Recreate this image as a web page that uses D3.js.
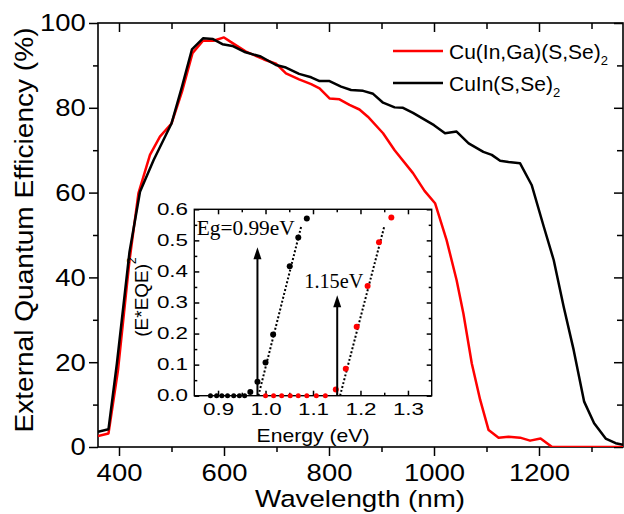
<!DOCTYPE html>
<html><head><meta charset="utf-8">
<script src="https://cdn.jsdelivr.net/npm/d3@7"></script>
<style>
body{margin:0;background:#fff}
text{fill:#000}
</style>
</head><body>
<svg id="c" width="624" height="514" style="font-family:'Liberation Sans',Arial,sans-serif"></svg>
<script>
// ---------- main chart data ----------
const seriesNames = ["Cu(In,Ga)(S,Se)", "CuIn(S,Se)"];
const seriesColors = ["#ff0000", "#000000"];
const redWavelength = [360,380,398,420,437,459,478,500,520,540,560,580,600,612,641,676,699,718,743,766,782,801,820,839,858,874,903,925,960,982,1002,1024,1043,1056,1072,1088,1104,1123,1142,1164,1183,1203,1225,1360];
const redEQE =        [2.6,3.2,18,44,59.8,68.9,73.2,76.3,83.8,92.9,95.8,95.8,96.6,95.6,93.3,91.4,90.4,88.1,86.7,85.6,84.6,82.2,82,80.7,79.6,77.9,74,70,64.6,60.4,57.5,48.8,39.4,31.5,19.7,11.1,4.0,2.2,2.4,2.2,1.5,2.0,0,0];
const blackWavelength = [360,380,396,420,440,466,500,520,539,560,579,597,616,641,670,699,718,743,766,782,801,823,842,865,884,903,925,941,960,1000,1021,1043,1066,1094,1110,1126,1142,1164,1186,1209,1228,1247,1266,1286,1305,1327,1346,1360];
const blackEQE =        [3.6,4.2,19.7,46,60.2,67.7,76.3,85,93.8,96.4,96.2,95,94.6,93.1,92.1,90.1,89.5,88,87.2,86.3,86.3,85,84.2,84,83.3,81.2,80.1,80,78.8,75.9,74,74.4,71.6,69.6,68.9,67.5,67.2,66.9,61.8,52,44.1,33.1,22.9,10.7,5.6,2.0,0.9,0.5];
const xMajorTicks = [400,600,800,1000,1200];
const xMinorTicks = [500,700,900,1100,1300];
const yMajorTicks = [0,20,40,60,80,100];
const yMinorTicks = [10,30,50,70,90];

// ---------- inset data ----------
const insetBlackEnergy = [0.884,0.897,0.908,0.920,0.933,0.945,0.956,0.968,0.983,1.000,1.016,1.051,1.069,1.087];
const insetBlackValue  = [0,0,0,0,0,0,0,0.012,0.045,0.107,0.197,0.417,0.509,0.570];
const insetRedEnergy = [1.000,1.017,1.034,1.052,1.069,1.087,1.107,1.126,1.148,1.169,1.192,1.215,1.239,1.265];
const insetRedValue  = [0,0,0,0,0,0,0,0,0.02,0.087,0.222,0.353,0.494,0.574];
const fitBlackEnergy = [0.985,1.075];
const fitBlackValue  = [0,0.544];
const fitRedEnergy = [1.157,1.250];
const fitRedValue  = [0,0.544];
const arrowEnergy = [0.983,1.151];
const arrowTop = [0.478,0.323];
const gapLabels = ["Eg=0.99eV","1.15eV"];
const insetXMajor = [0.9,1.0,1.1,1.2,1.3];
const insetXMinor = [0.95,1.05,1.15,1.25];
const insetYMajor = [0,0.1,0.2,0.3,0.4,0.5,0.6];
const insetYMinor = [0.05,0.15,0.25,0.35,0.45,0.55];

const svg = d3.select("#c");
const x = d3.scaleLinear().domain([360,1360]).range([98,623]);
const y = d3.scaleLinear().domain([0,100]).range([447,23]);
const SANS = "'Liberation Sans',Arial,sans-serif";
const SERIF = "'Liberation Serif','Times New Roman',serif";

function axisG(axis, tx, ty){
  const g = svg.append("g").attr("transform",`translate(${tx},${ty})`).call(axis);
  g.select(".domain").remove();
  g.selectAll("line").attr("stroke","#000").attr("stroke-width",1.5);
  return g;
}
const fmt = d3.format("d");
// bottom
let g = axisG(d3.axisBottom(x).tickValues(xMajorTicks).tickSize(9).tickPadding(8).tickFormat(fmt),0,447);
g.selectAll("text").style("font-size","24.5px").style("font-family",SANS).attr("transform","scale(1.12,1)");
axisG(d3.axisBottom(x).tickValues(xMinorTicks).tickSize(5).tickFormat(""),0,447);
// top
axisG(d3.axisTop(x).tickValues(xMajorTicks).tickSize(-9).tickFormat(""),0,23);
axisG(d3.axisTop(x).tickValues(xMinorTicks).tickSize(-6).tickFormat(""),0,23);
// left
g = axisG(d3.axisLeft(y).tickValues(yMajorTicks).tickSize(9).tickPadding(2).tickFormat(fmt),98,0);
g.selectAll("text").style("font-size","24.5px").style("font-family",SANS).attr("transform","scale(1.12,1)");
axisG(d3.axisLeft(y).tickValues(yMinorTicks).tickSize(5).tickFormat(""),98,0);
// right
axisG(d3.axisRight(y).tickValues(yMajorTicks).tickSize(-9).tickFormat(""),623,0);
axisG(d3.axisRight(y).tickValues(yMinorTicks).tickSize(-6).tickFormat(""),623,0);

// frame
svg.append("rect").attr("x",98).attr("y",23).attr("width",525).attr("height",424)
  .attr("fill","none").attr("stroke","#000").attr("stroke-width",1.6);

// curves
const line = d3.line().x(d=>x(d[0])).y(d=>y(d[1]));
svg.append("clipPath").attr("id","pc").append("rect").attr("x",98).attr("y",23).attr("width",525).attr("height",424);
const curves = [d3.zip(redWavelength, redEQE), d3.zip(blackWavelength, blackEQE)];
curves.forEach((c,i)=>{
  svg.append("path").attr("d",line(c)).attr("fill","none").attr("stroke",seriesColors[i])
    .attr("stroke-width",2.5).attr("stroke-linejoin","round").attr("clip-path","url(#pc)");
});

// titles
svg.append("text").attr("x",360).attr("y",507).attr("text-anchor","middle").style("font-size","24.5px").style("font-family",SANS)
  .attr("textLength",210).attr("lengthAdjust","spacingAndGlyphs").text("Wavelength (nm)");
svg.append("text").attr("transform","translate(33,230) rotate(-90)").attr("text-anchor","middle").style("font-size","25px").style("font-family",SANS)
  .attr("textLength",405).attr("lengthAdjust","spacingAndGlyphs").text("External Quantum Efficiency (%)");

// legend
const legY = [51,83];
seriesNames.forEach((n,i)=>{
  svg.append("line").attr("x1",393).attr("x2",443).attr("y1",legY[i]).attr("y2",legY[i])
    .attr("stroke",seriesColors[i]).attr("stroke-width",2.5);
  const t = svg.append("text").attr("x",449).attr("y",legY[i]+7.5).style("font-size","21px").style("font-family",SANS);
  t.append("tspan").text(n);
  t.append("tspan").style("font-size","13px").attr("dy",6).text("2");
});

// ---------- inset ----------
const xi = d3.scaleLinear().domain([0.85,1.35]).range([194.3,431.7]);
const yi = d3.scaleLinear().domain([0,0.6]).range([395.7,209.3]);
svg.append("rect").attr("x",194.3).attr("y",209.3).attr("width",237.4).attr("height",186.4).attr("fill","#fff");
const f1 = d3.format(".1f");
g = axisG(d3.axisBottom(xi).tickValues(insetXMajor).tickSize(-5).tickPadding(8).tickFormat(f1),0,395.7);
g.selectAll("text").style("font-size","16px").style("font-family",SANS).attr("transform","scale(1.4,1)");
axisG(d3.axisBottom(xi).tickValues(insetXMinor).tickSize(-3).tickFormat(""),0,395.7);
axisG(d3.axisTop(xi).tickValues(insetXMajor).tickSize(-5).tickFormat(""),0,209.3);
axisG(d3.axisTop(xi).tickValues(insetXMinor).tickSize(-3).tickFormat(""),0,209.3);
g = axisG(d3.axisLeft(yi).tickValues(insetYMajor).tickSize(-5).tickPadding(4.5).tickFormat(f1),194.3,0);
g.selectAll("text").style("font-size","16px").style("font-family",SANS).attr("transform","scale(1.4,1)");
axisG(d3.axisLeft(yi).tickValues(insetYMinor).tickSize(-3).tickFormat(""),194.3,0);
axisG(d3.axisRight(yi).tickValues(insetYMajor).tickSize(-5).tickFormat(""),431.7,0);
axisG(d3.axisRight(yi).tickValues(insetYMinor).tickSize(-3).tickFormat(""),431.7,0);
svg.append("rect").attr("x",194.3).attr("y",209.3).attr("width",237.4).attr("height",186.4)
  .attr("fill","none").attr("stroke","#000").attr("stroke-width",1.4);

// fit lines
const li = d3.line().x(d=>xi(d[0])).y(d=>yi(d[1]));
[d3.zip(fitBlackEnergy,fitBlackValue), d3.zip(fitRedEnergy,fitRedValue)].forEach(c=>{
  svg.append("path").attr("d",li(c)).attr("fill","none").attr("stroke","#000")
    .attr("stroke-width",2).attr("stroke-dasharray","2,2");
});
// points
[[insetBlackEnergy,insetBlackValue,"#000"],[insetRedEnergy,insetRedValue,"#ff0000"]].forEach(([e,v,c])=>{
  svg.append("g").selectAll("circle").data(d3.zip(e,v)).join("circle")
    .attr("cx",d=>xi(d[0])).attr("cy",d=>yi(d[1])).attr("r",d=>d[1]>0?3:2.5).attr("fill",c);
});
// arrows
arrowEnergy.forEach((e,i)=>{
  const ax = xi(e), top = yi(arrowTop[i]), bot = yi(0);
  svg.append("line").attr("x1",ax).attr("x2",ax).attr("y1",bot).attr("y2",top+10)
    .attr("stroke","#000").attr("stroke-width",2);
  svg.append("path").attr("d",`M${ax},${top} L${ax-4},${top+12} L${ax+4},${top+12} Z`).attr("fill","#000");
});
// gap labels (serif)
svg.append("text").attr("x",196.7).attr("y",235).style("font-size","20px").style("font-family",SERIF)
  .attr("textLength",98).attr("lengthAdjust","spacingAndGlyphs").text(gapLabels[0]);
svg.append("text").attr("x",304.3).attr("y",288.3).style("font-size","20px").style("font-family",SERIF)
  .attr("textLength",59).attr("lengthAdjust","spacingAndGlyphs").text(gapLabels[1]);
// inset titles
svg.append("text").attr("x",313).attr("y",441.7).attr("text-anchor","middle").style("font-size","19px").style("font-family",SANS)
  .attr("textLength",113).attr("lengthAdjust","spacingAndGlyphs").text("Energy (eV)");
const yt = svg.append("text").attr("transform","translate(148,297) rotate(-90)").attr("text-anchor","middle").style("font-size","19px").style("font-family",SANS);
yt.append("tspan").text("(E*EQE)");
yt.append("tspan").style("font-size","12px").attr("dy",-12).text("2");
</script>
</body></html>
